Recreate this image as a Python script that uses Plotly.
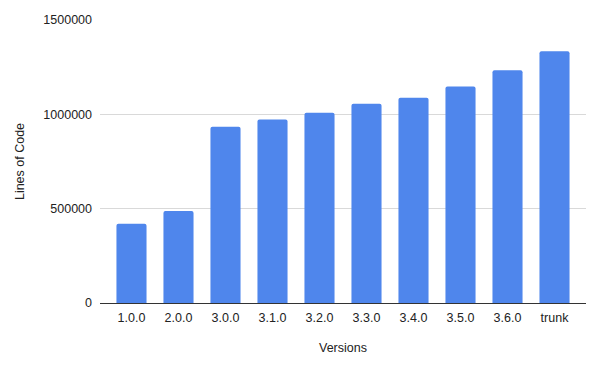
import plotly.graph_objects as go

versions = ["1.0.0", "2.0.0", "3.0.0", "3.1.0", "3.2.0", "3.3.0", "3.4.0", "3.5.0", "3.6.0", "trunk"]
lines_of_code = [420000, 488000, 934000, 973000, 1008000, 1056000, 1088000, 1148000, 1233000, 1335000]
y_ticks = [0, 500000, 1000000, 1500000]

fig = go.Figure(go.Bar(
    x=versions, y=lines_of_code,
    marker=dict(color="#4f86ec", line=dict(width=0), cornerradius=2),
    width=0.64,
))

font = "Liberation Sans, Arial, sans-serif"
fig.update_layout(
    width=600, height=367,
    margin=dict(l=100, r=14, t=20, b=64),
    paper_bgcolor="white", plot_bgcolor="white",
    font=dict(family=font, size=12, color="#222"),
    showlegend=False,
    xaxis=dict(
        type="category", range=[-0.67, 9.67],
        showgrid=False, ticks="", tickfont=dict(size=12.5, color="#222"),
        ticklabelstandoff=5,
        title=dict(text="Versions", font=dict(size=12.5, color="#222"), standoff=19),
        showline=False,
    ),
    yaxis=dict(
        range=[0, 1500000], tickvals=y_ticks, ticktext=[str(v) for v in y_ticks],
        showgrid=True, gridcolor="#d9d9d9", gridwidth=1,
        zeroline=True, zerolinecolor="#333", zerolinewidth=1,
        ticks="", ticklabelstandoff=7, tickfont=dict(size=12.5, color="#222"),
        title=dict(text="Lines of Code", font=dict(size=12.5, color="#222"), standoff=15),
    ),
)
fig.write_html("out.html")
